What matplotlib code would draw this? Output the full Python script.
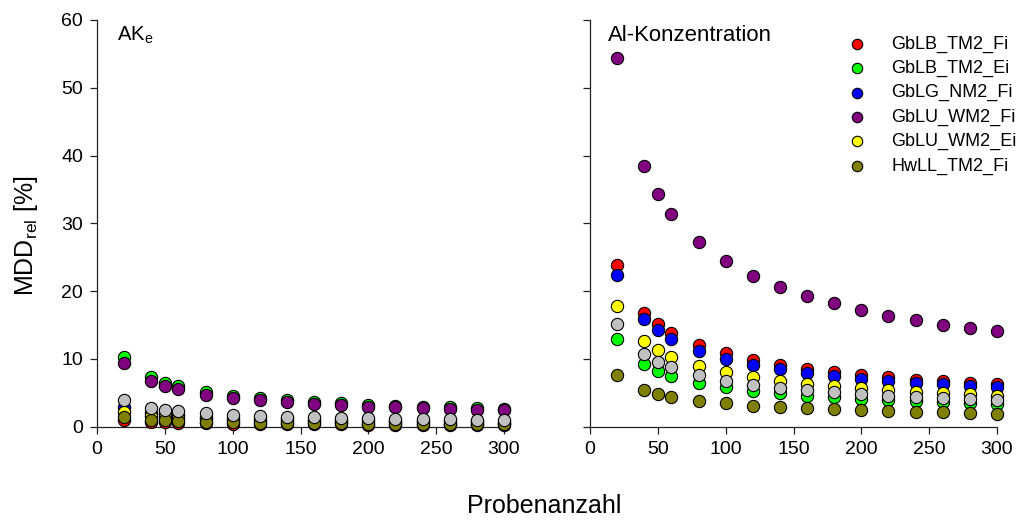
import matplotlib
matplotlib.use('Agg')
import matplotlib.pyplot as plt

plt.rcParams['font.family'] = ['Liberation Sans', 'DejaVu Sans']
plt.rcParams['mathtext.default'] = 'regular'

# Probenanzahl (x)
n_samples = [20, 40, 50, 60, 80, 100, 120, 140, 160, 180, 200, 220, 240, 260, 280, 300]

series_names = ['GbLB_TM2_Fi', 'GbLB_TM2_Ei', 'GbLG_NM2_Fi', 'GbLU_WM2_Fi',
                'GbLU_WM2_Ei', 'HwLL_TM2_Fi', 'gray']
series_colors = ['#ff0000', '#00ff00', '#0000ff', '#800080', '#ffff00', '#808000', '#c0c0c0']

# AKe, MDD_rel [%]
ake_red = [1.0, 0.71, 0.63, 0.58, 0.5, 0.45, 0.41, 0.38, 0.35, 0.33, 0.32, 0.3, 0.29, 0.28, 0.27, 0.26]
ake_green = [10.3, 7.35, 6.5, 6.0, 5.15, 4.58, 4.18, 3.9, 3.65, 3.43, 3.26, 3.1, 2.97, 2.86, 2.75, 2.66]
ake_blue = [2.9, 2.05, 1.83, 1.67, 1.45, 1.3, 1.18, 1.1, 1.03, 0.97, 0.92, 0.87, 0.84, 0.8, 0.78, 0.75]
ake_purple = [9.4, 6.7, 5.98, 5.5, 4.73, 4.23, 3.88, 3.58, 3.35, 3.15, 2.98, 2.85, 2.74, 2.63, 2.53, 2.45]
ake_yellow = [2.2, 1.56, 1.39, 1.27, 1.1, 0.98, 0.9, 0.83, 0.78, 0.73, 0.7, 0.66, 0.64, 0.61, 0.59, 0.57]
ake_olive = [1.45, 1.05, 0.95, 0.85, 0.72, 0.65, 0.59, 0.55, 0.51, 0.48, 0.46, 0.44, 0.42, 0.4, 0.39, 0.37]
ake_gray = [3.9, 2.78, 2.5, 2.28, 1.96, 1.74, 1.59, 1.47, 1.38, 1.3, 1.23, 1.18, 1.13, 1.08, 1.04, 1.0]

# Al-Konzentration, MDD_rel [%]
al_red = [23.8, 16.8, 15.1, 13.8, 12.0, 10.8, 9.8, 9.1, 8.5, 8.05, 7.6, 7.3, 6.9, 6.7, 6.4, 6.3]
al_green = [13.0, 9.23, 8.25, 7.5, 6.48, 5.8, 5.3, 4.9, 4.57, 4.33, 4.08, 3.88, 3.73, 3.59, 3.44, 3.3]
al_blue = [22.4, 15.85, 14.2, 12.95, 11.2, 10.05, 9.15, 8.45, 7.95, 7.46, 7.07, 6.73, 6.48, 6.24, 6.03, 5.84]
al_purple = [54.45, 38.5, 34.4, 31.4, 27.2, 24.4, 22.2, 20.6, 19.3, 18.2, 17.2, 16.4, 15.75, 15.07, 14.57, 14.08]
al_yellow = [17.8, 12.6, 11.3, 10.3, 8.93, 8.0, 7.3, 6.77, 6.33, 5.94, 5.65, 5.4, 5.1, 4.96, 4.76, 4.6]
al_olive = [7.65, 5.4, 4.8, 4.4, 3.78, 3.44, 3.1, 2.85, 2.7, 2.56, 2.41, 2.27, 2.16, 2.1, 2.02, 1.9]
al_gray = [15.16, 10.75, 9.6, 8.74, 7.56, 6.77, 6.18, 5.7, 5.35, 5.06, 4.8, 4.56, 4.37, 4.22, 4.07, 3.93]

ake_data = [ake_red, ake_green, ake_blue, ake_purple, ake_yellow, ake_olive, ake_gray]
al_data = [al_red, al_green, al_blue, al_purple, al_yellow, al_olive, al_gray]

fig = plt.figure(figsize=(10.25, 5.21), dpi=100)
ax1 = fig.add_axes([97 / 1025, 1 - 426.7 / 521, 407 / 1025, 406.7 / 521])
ax2 = fig.add_axes([590 / 1025, 1 - 426.7 / 521, 407 / 1025, 406.7 / 521])


def style_axes(ax, show_ylabels=True):
    ax.set_xlim(0, 300)
    ax.set_ylim(0, 60)
    ax.set_xticks([0, 50, 100, 150, 200, 250, 300])
    ax.set_yticks([0, 10, 20, 30, 40, 50, 60])
    for s in ['top', 'right']:
        ax.spines[s].set_visible(False)
    for s in ['left', 'bottom']:
        ax.spines[s].set_linewidth(0.9)
        ax.spines[s].set_color('#222222')
    ax.tick_params(direction='out', length=5, width=0.9, labelsize=14, colors='#222222',
                   labelcolor='black', pad=5)
    if not show_ylabels:
        ax.tick_params(axis='y', labelleft=False)


for ax, data in [(ax1, ake_data), (ax2, al_data)]:
    for name, color, vals in zip(series_names, series_colors, data):
        lab = name if (ax is ax2 and name != 'gray') else None
        ax.scatter(n_samples, vals, s=78, c=color, edgecolors='black', linewidths=0.8,
                   label=lab, zorder=3, clip_on=False)

style_axes(ax1, True)
style_axes(ax2, False)

ax1.text(0.049, 0.949, r'AK$_{e}$', transform=ax1.transAxes, fontsize=14.6, va='baseline', ha='left')
ax2.text(0.044, 0.948, 'Al-Konzentration', transform=ax2.transAxes, fontsize=15.9, va='baseline', ha='left')

ax2.legend(loc='upper left', bbox_to_anchor=(0.635, 0.962), frameon=False, fontsize=13,
           handlelength=1.0, handletextpad=1.37, labelspacing=0.4, borderpad=0,
           borderaxespad=0, markerscale=0.85)

fig.text(0.025, 0.547, r'MDD$_{rel}$ [%]', rotation=90, fontsize=18, ha='center', va='center')
fig.text(544 / 1025, 1 - 506 / 521, 'Probenanzahl', fontsize=18, ha='center', va='center')

fig.savefig('out.png', dpi=100)
